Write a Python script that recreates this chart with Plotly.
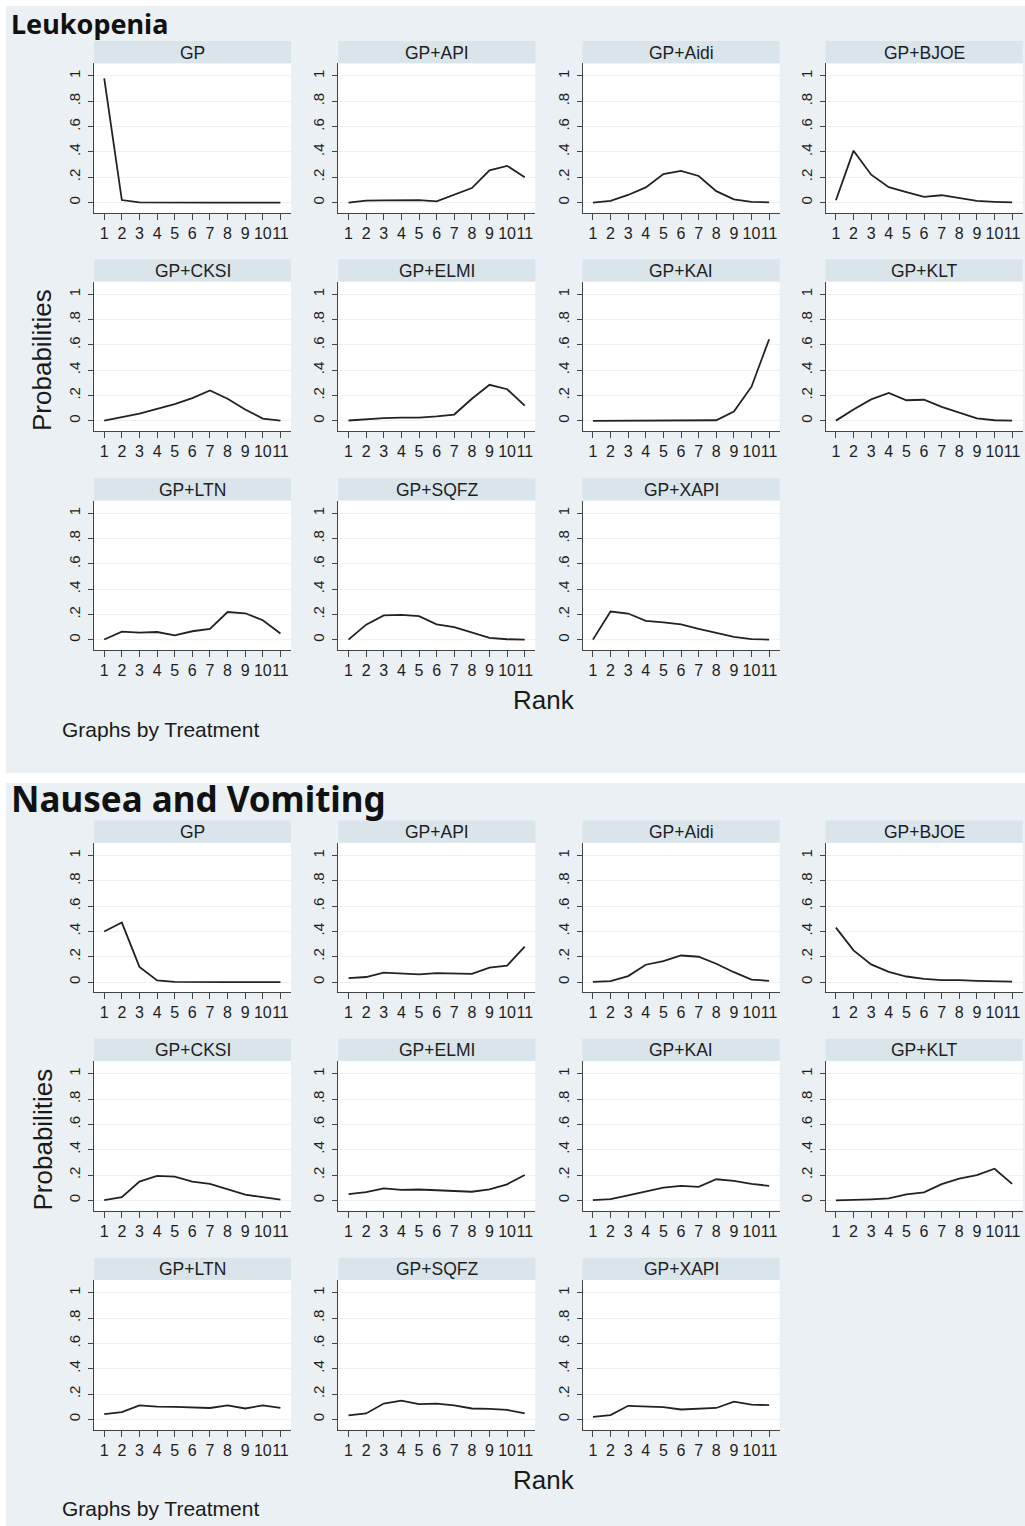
import plotly.graph_objects as go

# Rank probabilities of each treatment (ranks 1..11)
ranks = list(range(1, 12))
treatments = ["GP", "GP+API", "GP+Aidi", "GP+BJOE", "GP+CKSI", "GP+ELMI",
              "GP+KAI", "GP+KLT", "GP+LTN", "GP+SQFZ", "GP+XAPI"]
y_tickvals = [0, 0.2, 0.4, 0.6, 0.8, 1]
y_ticktext = ["0", ".2", ".4", ".6", ".8", "1"]

# Leukopenia
leu_gp = [0.98, 0.02, 0.002, 0, 0, 0, 0, 0, 0, 0, 0]
leu_api = [0.0, 0.015, 0.018, 0.02, 0.02, 0.01, 0.06, 0.115, 0.255, 0.29, 0.2]
leu_aidi = [0.0, 0.013, 0.06, 0.12, 0.225, 0.25, 0.21, 0.09, 0.025, 0.006, 0.002]
leu_bjoe = [0.018, 0.41, 0.22, 0.122, 0.083, 0.045, 0.058, 0.035, 0.013, 0.006, 0.002]
leu_cksi = [0.002, 0.03, 0.057, 0.095, 0.133, 0.18, 0.24, 0.175, 0.09, 0.018, 0.002]
leu_elmi = [0.003, 0.013, 0.022, 0.025, 0.025, 0.035, 0.05, 0.175, 0.285, 0.25, 0.12]
leu_kai = [0, 0, 0, 0, 0, 0, 0.001, 0.005, 0.073, 0.27, 0.645]
leu_klt = [0.002, 0.09, 0.17, 0.22, 0.163, 0.167, 0.11, 0.065, 0.02, 0.005, 0.002]
leu_ltn = [0.003, 0.065, 0.058, 0.062, 0.036, 0.068, 0.086, 0.22, 0.21, 0.155, 0.05]
leu_sqfz = [0.002, 0.12, 0.193, 0.198, 0.187, 0.122, 0.1, 0.06, 0.016, 0.005, 0.002]
leu_xapi = [0.002, 0.224, 0.208, 0.15, 0.138, 0.122, 0.086, 0.052, 0.023, 0.006, 0.002]

# Nausea and vomiting
nv_gp = [0.40, 0.47, 0.12, 0.013, 0.002, 0, 0, 0, 0, 0, 0]
nv_api = [0.031, 0.04, 0.075, 0.07, 0.06, 0.07, 0.07, 0.065, 0.114, 0.13, 0.28]
nv_aidi = [0.002, 0.008, 0.047, 0.137, 0.166, 0.21, 0.2, 0.145, 0.078, 0.02, 0.01]
nv_bjoe = [0.43, 0.25, 0.14, 0.08, 0.044, 0.025, 0.015, 0.016, 0.01, 0.008, 0.004]
nv_cksi = [0.002, 0.025, 0.148, 0.193, 0.188, 0.148, 0.13, 0.09, 0.045, 0.025, 0.006]
nv_elmi = [0.05, 0.065, 0.095, 0.083, 0.086, 0.08, 0.07, 0.068, 0.086, 0.127, 0.2]
nv_kai = [0.002, 0.01, 0.04, 0.073, 0.1, 0.115, 0.107, 0.167, 0.154, 0.13, 0.115]
nv_klt = [0.0, 0.002, 0.008, 0.015, 0.047, 0.063, 0.128, 0.172, 0.2, 0.25, 0.13]
nv_ltn = [0.042, 0.057, 0.11, 0.1, 0.098, 0.094, 0.09, 0.11, 0.086, 0.11, 0.09]
nv_sqfz = [0.031, 0.047, 0.125, 0.148, 0.12, 0.125, 0.11, 0.086, 0.083, 0.075, 0.047]
nv_xapi = [0.02, 0.034, 0.107, 0.104, 0.096, 0.078, 0.086, 0.09, 0.14, 0.117, 0.112]

# (title, title font size, title centre y within block, series)
outcomes = [
    ("Leukopenia", 27, 24, [leu_gp, leu_api, leu_aidi, leu_bjoe, leu_cksi, leu_elmi,
                            leu_kai, leu_klt, leu_ltn, leu_sqfz, leu_xapi]),
    ("Nausea and Vomiting", 35, 18.5, [nv_gp, nv_api, nv_aidi, nv_bjoe, nv_cksi, nv_elmi,
                                       nv_kai, nv_klt, nv_ltn, nv_sqfz, nv_xapi]),
]

# Page geometry (pixels)
W, H = 1025, 1526
BLOCK_OFFSETS = [0, 779.5]
BLOCK_SPANS = [(6, 773), (783, 1526)]
COL_LEFT = [94, 338.3, 582.7, 825.7]
PLOT_W = 197
STRIP_TOP = [41, 259.3, 478.3]
STRIP_H = 22.3
PLOT_H = 149.4

BG = "#eaf0f3"
STRIP = "#d9e4eb"
GRID = "#edf1f3"
AXIS = "#444444"
LINE = "#222222"
FONT = "Liberation Sans, Arial, sans-serif"


def fx(px):
    return px / W


def fy(py):
    return 1 - py / H


fig = go.Figure()
shapes = []
annotations = []
layout_axes = {}

# Block backgrounds
for (y0, y1) in BLOCK_SPANS:
    shapes.append(dict(type="rect", xref="paper", yref="paper", layer="below",
                       x0=fx(6), x1=fx(W), y0=fy(y1), y1=fy(y0),
                       fillcolor=BG, line=dict(width=0)))

n = 0
for b, (title, title_size, title_y, series) in enumerate(outcomes):
    off = BLOCK_OFFSETS[b]
    annotations.append(dict(text="<b>%s</b>" % title, xref="paper", yref="paper",
                            x=fx(9), y=fy(off + title_y),
                            xanchor="left", yanchor="middle", showarrow=False,
                            font=dict(family="Noto Sans, Open Sans, sans-serif",
                                      size=title_size, color="#111111")))
    for i, vals in enumerate(series):
        n += 1
        row, col = divmod(i, 4)
        left = COL_LEFT[col]
        s_top = off + STRIP_TOP[row]
        p_top = s_top + STRIP_H
        p_bot = p_top + PLOT_H
        sfx = "" if n == 1 else str(n)

        # plot area and strip header
        shapes.append(dict(type="rect", xref="paper", yref="paper", layer="below",
                           x0=fx(left), x1=fx(left + PLOT_W), y0=fy(p_bot), y1=fy(p_top),
                           fillcolor="white", line=dict(width=0)))
        shapes.append(dict(type="rect", xref="paper", yref="paper", layer="below",
                           x0=fx(left), x1=fx(left + PLOT_W), y0=fy(p_top), y1=fy(s_top),
                           fillcolor=STRIP, line=dict(width=0)))
        annotations.append(dict(text=treatments[i], xref="paper", yref="paper",
                                x=fx(left + PLOT_W / 2), y=fy(s_top + STRIP_H / 2 + 0.5),
                                xanchor="center", yanchor="middle", showarrow=False,
                                font=dict(family=FONT, size=17.5, color="#1e1e1e")))

        fig.add_trace(go.Scatter(x=ranks, y=vals, mode="lines",
                                 line=dict(color=LINE, width=1.8),
                                 xaxis="x" + sfx, yaxis="y" + sfx,
                                 showlegend=False, hoverinfo="x+y"))

        layout_axes["xaxis" + sfx] = dict(
            domain=[fx(left), fx(left + PLOT_W)], anchor="y" + sfx,
            range=[0.42, 11.6], tickmode="array", tickvals=ranks,
            ticktext=[str(r) for r in ranks], tickangle=0, ticks="outside", ticklen=6,
            tickwidth=1, tickcolor=AXIS, showline=True, linecolor=AXIS, linewidth=1,
            showgrid=False, zeroline=False, fixedrange=True,
            tickfont=dict(family=FONT, size=16, color="#1e1e1e"))
        layout_axes["yaxis" + sfx] = dict(
            domain=[fy(p_bot), fy(p_top)], anchor="x" + sfx,
            range=[-0.08, 1.1], tickmode="array", tickvals=y_tickvals,
            ticktext=y_ticktext, tickangle=-90, ticks="outside", ticklen=5,
            ticklabelstandoff=2,
            tickwidth=1, tickcolor=AXIS, showline=True, linecolor=AXIS, linewidth=1,
            showgrid=True, gridcolor=GRID, gridwidth=1, zeroline=False,
            fixedrange=True, tickfont=dict(family=FONT, size=15, color="#1e1e1e"))

    # shared axis titles and note
    annotations.append(dict(text="Probabilities", xref="paper", yref="paper",
                            x=fx(42), y=fy(off + 360), textangle=-90,
                            xanchor="center", yanchor="middle", showarrow=False,
                            font=dict(family=FONT, size=26, color="#1a1a1a")))
    annotations.append(dict(text="Rank", xref="paper", yref="paper",
                            x=fx(544), y=fy(off + 700),
                            xanchor="center", yanchor="middle", showarrow=False,
                            font=dict(family=FONT, size=26, color="#1a1a1a")))
    annotations.append(dict(text="Graphs by Treatment", xref="paper", yref="paper",
                            x=fx(60), y=fy(off + 729),
                            xanchor="left", yanchor="middle", showarrow=False,
                            font=dict(family=FONT, size=21, color="#1a1a1a")))

fig.update_layout(
    width=W, height=H, margin=dict(l=0, r=0, t=0, b=0),
    paper_bgcolor="white", plot_bgcolor="white",
    shapes=shapes, annotations=annotations, showlegend=False,
    **layout_axes)

fig.write_html("out.html", config={"displayModeBar": False})
